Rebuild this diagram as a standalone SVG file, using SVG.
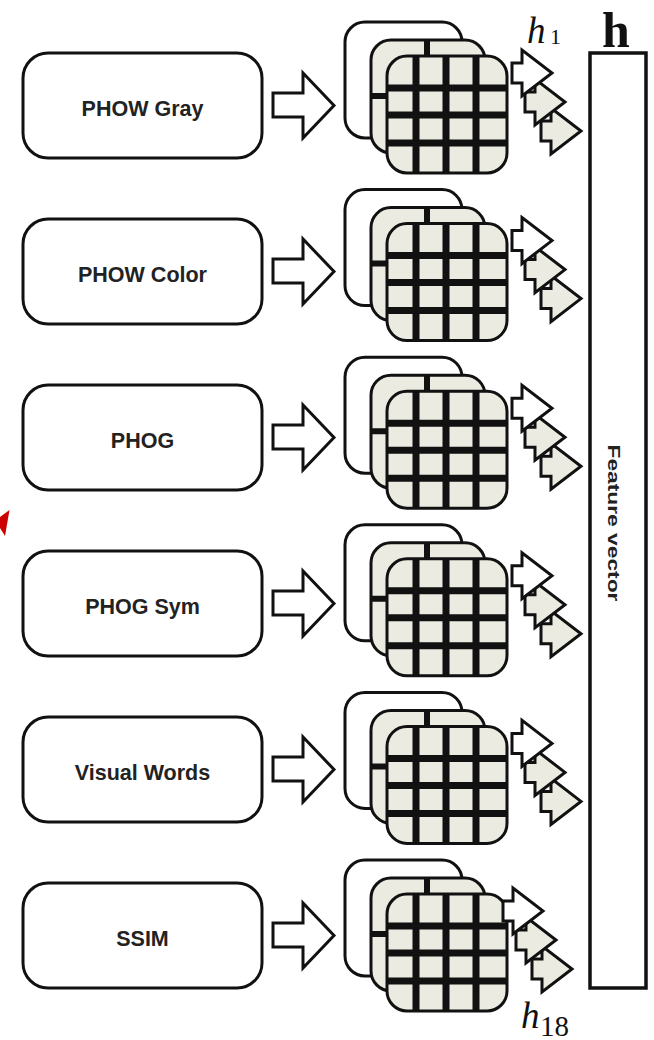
<svg xmlns="http://www.w3.org/2000/svg" width="654" height="1040" viewBox="0 0 654 1040">
<style>
.box{fill:#fff;stroke:#111;stroke-width:3}
.lbl{font-family:"Liberation Sans",Arial,sans-serif;font-weight:bold;font-size:21.5px;fill:#222;text-anchor:middle}
.card{stroke:#111;stroke-width:3}
.grid{stroke:#111;stroke-width:7;fill:none}
.big{fill:#fff;stroke:#111;stroke-width:3}
.sw{fill:#fff;stroke:#111;stroke-width:3}
.sb{fill:#ecebe2;stroke:#111;stroke-width:3}
.math{font-family:"Liberation Serif","Times New Roman",serif;fill:#111}
</style>
<defs>
<g id="stack">
<rect x="345" y="22" width="117" height="116" rx="20" fill="#fff" class="card"/>
<rect x="371" y="40" width="114" height="113" rx="20" fill="#ecebe2"/>
<path d="M427,40 V153 M371,96 H485" stroke="#111" stroke-width="6"/>
<rect x="371" y="40" width="114" height="113" rx="20" fill="none" class="card"/>
<rect x="387" y="56" width="120" height="117" rx="20" fill="#ecebe2"/>
<path d="M416,56 V173 M446,56 V173 M476,56 V173 M387,88 H507 M387,115 H507 M387,143 H507" class="grid"/>
<rect x="387" y="56" width="120" height="117" rx="20" fill="none" class="card"/>
</g>
<path id="bigarrow" d="M273,93 H303 V73 L334,105.5 L303,138 V117 H273 Z"/>
<path id="small" d="M-40,-10 H-30 V-23 L0,0 L-30,23 V10 H-40 Z"/>
</defs>

<g id="node-phow-gray"><rect class="box" x="23" y="53" width="239" height="105" rx="25"/><text class="lbl" x="142.5" y="116">PHOW Gray</text></g>
<g id="node-phow-color"><rect class="box" x="23" y="219" width="239" height="105" rx="25"/><text class="lbl" x="142.5" y="282">PHOW Color</text></g>
<g id="node-phog"><rect class="box" x="23" y="385" width="239" height="105" rx="25"/><text class="lbl" x="142.5" y="448">PHOG</text></g>
<g id="node-phog-sym"><rect class="box" x="23" y="551" width="239" height="105" rx="25"/><text class="lbl" x="142.5" y="614">PHOG Sym</text></g>
<g id="node-visual-words"><rect class="box" x="23" y="717" width="239" height="105" rx="25"/><text class="lbl" x="142.5" y="780">Visual Words</text></g>
<g id="node-ssim"><rect class="box" x="23" y="883" width="239" height="105" rx="25"/><text class="lbl" x="142.5" y="946">SSIM</text></g>

<g id="stack-1"><use href="#stack"/></g>
<g id="stack-2"><use href="#stack" transform="translate(0,167.6)"/></g>
<g id="stack-3"><use href="#stack" transform="translate(0,335.2)"/></g>
<g id="stack-4"><use href="#stack" transform="translate(0,502.8)"/></g>
<g id="stack-5"><use href="#stack" transform="translate(0,670.4)"/></g>
<g id="stack-6"><use href="#stack" transform="translate(0,838)"/></g>

<g id="feature-vector">
<rect x="590" y="53" width="56" height="935" fill="#fff" stroke="#111" stroke-width="3.5"/>
<text transform="translate(608,523) rotate(90)" font-family="Liberation Sans, Arial, sans-serif" font-weight="bold" font-size="16.5" fill="#222" text-anchor="middle" textLength="157" lengthAdjust="spacingAndGlyphs">Feature vector</text>
</g>

<g id="connectors">
<use href="#bigarrow" class="big"/>
<use href="#bigarrow" class="big" transform="translate(0,166)"/>
<use href="#bigarrow" class="big" transform="translate(0,332)"/>
<use href="#bigarrow" class="big" transform="translate(0,498)"/>
<use href="#bigarrow" class="big" transform="translate(0,664)"/>
<use href="#bigarrow" class="big" transform="translate(0,830)"/>

<g transform="translate(0,0)"><use href="#small" class="sb" x="581" y="131"/><use href="#small" class="sb" x="565" y="102"/><use href="#small" class="sw" x="552" y="73"/></g>
<g transform="translate(0,167.6)"><use href="#small" class="sb" x="581" y="131"/><use href="#small" class="sb" x="565" y="102"/><use href="#small" class="sw" x="552" y="73"/></g>
<g transform="translate(0,335.2)"><use href="#small" class="sb" x="581" y="131"/><use href="#small" class="sb" x="565" y="102"/><use href="#small" class="sw" x="552" y="73"/></g>
<g transform="translate(0,502.8)"><use href="#small" class="sb" x="581" y="131"/><use href="#small" class="sb" x="565" y="102"/><use href="#small" class="sw" x="552" y="73"/></g>
<g transform="translate(0,670.4)"><use href="#small" class="sb" x="581" y="131"/><use href="#small" class="sb" x="565" y="102"/><use href="#small" class="sw" x="552" y="73"/></g>
<g transform="translate(-9,838)"><use href="#small" class="sb" x="581" y="131"/><use href="#small" class="sb" x="565" y="102"/><use href="#small" class="sw" x="552" y="73"/></g>
</g>

<g id="labels">
<text class="math" x="527" y="43" font-size="37" font-style="italic">h</text>
<text class="math" x="550" y="44" font-size="22">1</text>
<text class="math" x="602" y="47" font-size="50" font-weight="bold">h</text>
<text class="math" x="521" y="1028" font-size="37" font-style="italic">h</text>
<text class="math" x="540" y="1036" font-size="29">18</text>
</g>

<polygon points="9.5,510 0,517 0,528 5,536" fill="#cc0000"/>
</svg>
